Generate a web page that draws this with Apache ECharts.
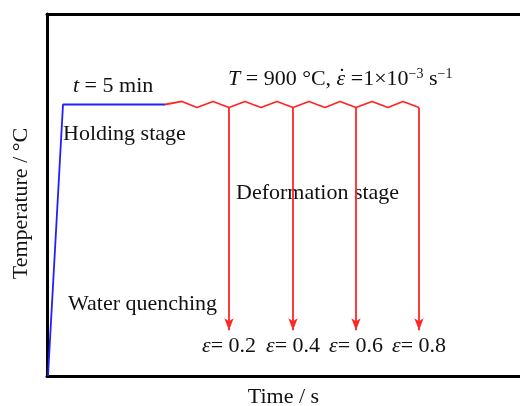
<!DOCTYPE html>
<html>
<head>
<meta charset="utf-8">
<script src="https://cdn.jsdelivr.net/npm/echarts@6/dist/echarts.min.js"></script>
<style>
  html, body { margin: 0; padding: 0; background: #fff; }
  #chart { width: 520px; height: 406px; }
</style>
</head>
<body>
<div id="chart"></div>
<script>
// Heating and holding: time (arbitrary units) vs temperature (°C)
const heatTime = [1, 16, 118];
const heatTemp = [0, 900, 900];

// Deformation at 900 °C (serrated flow curve)
const deformTime = [118, 135, 150, 166, 182, 198, 214, 230, 246, 262, 278, 293, 309, 325, 341, 356, 372];
const deformTemp = [900, 910, 890, 910, 890, 910, 890, 910, 890, 910, 890, 910, 890, 910, 890, 910, 890];

// Water quenching after each strain level
const quenchTime = [182, 246, 309, 372];
const quenchStart = 890;
const quenchEnd = 152;
const strains = ['0.2', '0.4', '0.6', '0.8'];

const FONT = '"Liberation Serif", "Times New Roman", serif';
const TXT = '#111';

const chart = echarts.init(document.getElementById('chart'), null, { renderer: 'canvas' });

const quenchLines = quenchTime.map((t, i) => [
  { coord: [t, quenchStart] },
  { coord: [t, quenchEnd], label: { formatter: '{i|ε}= ' + strains[i] } }
]);

const plainAxis = {
  type: 'value',
  axisTick: { show: false },
  axisLabel: { show: false },
  splitLine: { show: false },
  axisLine: { show: true, lineStyle: { color: '#000', width: 3 } }
};

chart.setOption({
  animation: false,
  backgroundColor: '#fff',
  grid: { left: 47, top: 14, right: 0, bottom: 30, outerBoundsMode: 'none', containLabel: false },
  xAxis: [
    Object.assign({}, plainAxis, {
      min: 0, max: 473, position: 'bottom',
      name: 'Time / s', nameLocation: 'middle', nameGap: 10,
      nameTextStyle: { fontFamily: FONT, fontSize: 22, color: TXT }
    }),
    Object.assign({}, plainAxis, { min: 0, max: 473, position: 'top' })
  ],
  yAxis: Object.assign({}, plainAxis, {
    min: 0, max: 1200,
    name: 'Temperature / °C', nameLocation: 'middle', nameGap: 15,
    nameTextStyle: { fontFamily: FONT, fontSize: 22, color: TXT, padding: [0, 17, 0, 0] }
  }),
  series: [
    {
      type: 'line',
      data: heatTime.map((t, i) => [t, heatTemp[i]]),
      symbol: 'none',
      lineStyle: { color: '#2020ff', width: 1.8 },
      z: 3
    },
    {
      type: 'line',
      data: deformTime.map((t, i) => [t, deformTemp[i]]),
      symbol: 'none',
      lineStyle: { color: '#ff2626', width: 1.8 },
      z: 3,
      markLine: {
        silent: true,
        symbol: ['none', 'arrow'],
        symbolSize: [7, 12],
        lineStyle: { color: '#ff2626', width: 1.8, type: 'solid' },
        label: {
          show: true,
          position: 'end',
          distance: 5,
          fontFamily: FONT,
          fontSize: 22,
          color: TXT,
          rich: {
            i: { fontFamily: FONT, fontSize: 22, fontStyle: 'italic', color: TXT }
          }
        },
        data: quenchLines
      }
    }
  ],
  graphic: [
    {
      type: 'text', x: 73, y: 86,
      style: {
        text: '{i|t} = 5 min',
        font: '22px ' + FONT, fill: TXT, verticalAlign: 'middle',
        rich: { i: { fontFamily: FONT, fontSize: 22, fontStyle: 'italic', fill: TXT } }
      }
    },
    {
      type: 'text', x: 228, y: 79,
      style: {
        text: '{i|T} = 900 °C, {i|ε} =1×10{sup|−3} s{sup|−1}',
        font: '22px ' + FONT, fill: TXT, verticalAlign: 'middle', lineHeight: 24,
        rich: {
          i: { fontFamily: FONT, fontSize: 22, fontStyle: 'italic', fill: TXT, lineHeight: 24 },
          sup: { fontFamily: FONT, fontSize: 14, fill: TXT, verticalAlign: 'top', lineHeight: 14 }
        }
      }
    },
    {
      // rate dot over the strain symbol
      type: 'text', x: 342, y: 77,
      style: { text: '˙', font: '22px ' + FONT, fill: TXT, align: 'center', verticalAlign: 'middle' }
    },
    {
      type: 'text', x: 63, y: 134.5,
      style: { text: 'Holding stage', font: '22px ' + FONT, fill: TXT, verticalAlign: 'middle' }
    },
    {
      type: 'text', x: 236, y: 193,
      style: { text: 'Deformation stage', font: '22px ' + FONT, fill: TXT, verticalAlign: 'middle' }
    },
    {
      type: 'text', x: 68, y: 304.5,
      style: { text: 'Water quenching', font: '22px ' + FONT, fill: TXT, verticalAlign: 'middle' }
    }
  ]
});
</script>
</body>
</html>
